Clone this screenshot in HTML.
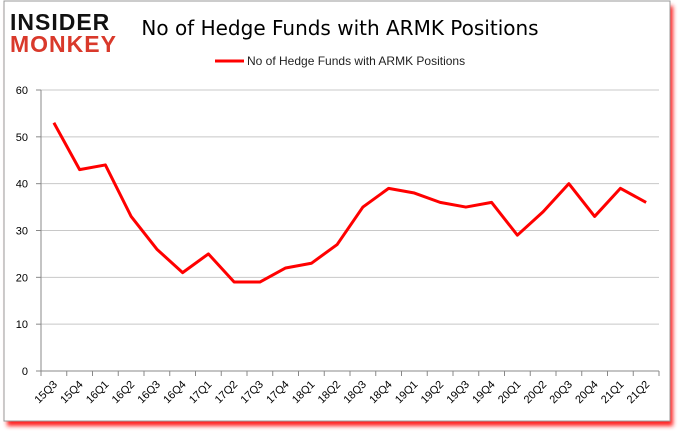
<!DOCTYPE html>
<html><head><meta charset="utf-8"><style>
body{margin:0;background:#fff;width:678px;height:431px;overflow:hidden;font-family:"Liberation Sans",sans-serif}
</style></head><body>
<svg width="678" height="431" xmlns="http://www.w3.org/2000/svg">
<defs><filter id="sh" x="-5%" y="-5%" width="110%" height="115%"><feGaussianBlur stdDeviation="2"/></filter></defs>
<rect x="7" y="6" width="666" height="420" fill="#ff2020" filter="url(#sh)"/>
<rect x="4" y="1" width="666" height="420" fill="#fff" stroke="#999"/>
<g>
<text x="10" y="30" font-size="23" font-weight="bold" fill="#111" letter-spacing="1">INSIDER</text>
<text x="10" y="52" font-size="23" font-weight="bold" fill="#d9392b" letter-spacing="1">MONKEY</text>
</g>
<text x="340" y="35" font-size="20" text-anchor="middle" fill="#000" font-family="'DejaVu Sans',sans-serif">No of Hedge Funds with ARMK Positions</text>
<line x1="215" y1="61" x2="244" y2="61" stroke="#f00" stroke-width="3"/>
<text x="247" y="65" font-size="12" fill="#222">No of Hedge Funds with ARMK Positions</text>
<g id="grid"></g><g id="axes"></g><g id="series"></g>
</svg>
<script>
const categories=["15Q3","15Q4","16Q1","16Q2","16Q3","16Q4","17Q1","17Q2","17Q3","17Q4","18Q1","18Q2","18Q3","18Q4","19Q1","19Q2","19Q3","19Q4","20Q1","20Q2","20Q3","20Q4","21Q1","21Q2"];
const values=[53,43,44,33,26,21,25,19,19,22,23,27,35,39,38,36,35,36,29,34,40,33,39,36];
const yTicks=[0,10,20,30,40,50,60];
const NS="http://www.w3.org/2000/svg";
const L=41,R=659,T=90,B=371,yMax=60;
const cw=(R-L)/categories.length;
const xs=i=>L+cw*(i+0.5);
const ys=v=>B-(v/yMax)*(B-T);
function mk(tag,attrs,parent){const e=document.createElementNS(NS,tag);for(const k in attrs)e.setAttribute(k,attrs[k]);document.getElementById(parent).appendChild(e);return e;}
yTicks.forEach(t=>{
 const y=ys(t);
 const g=mk('line',{x1:L,x2:R,y1:y,y2:y,stroke:t===0?'#888':'#c8c8c8','stroke-width':1},'grid');
 
 
 const tk=mk('line',{x1:L-5,x2:L,y1:y,y2:y,stroke:'#888'},'axes');
 
 
 const tx=mk('text',{x:L-13,y:y+4,'font-size':11,'text-anchor':'end',fill:'#000'},'axes');
 tx.textContent=t;
 
 
});
const ya=mk('line',{x1:L,x2:L,y1:T,y2:B,stroke:'#888'},'axes');


categories.forEach((c,i)=>{
 const x=L+cw*i;
 const tk=mk('line',{x1:x,x2:x,y1:B,y2:B+5,stroke:'#888'},'axes');
 
 
 const cx=xs(i)+4,cy=B+14;
 const tx=mk('text',{x:cx,y:cy,'font-size':11,'text-anchor':'end',fill:'#000',transform:`rotate(-45 ${cx} ${cy})`},'axes');
 tx.textContent=c;
 
 
});
const lt=mk('line',{x1:R,x2:R,y1:B,y2:B+5,stroke:'#888'},'axes');


const p=mk('polyline',{points:values.map((v,i)=>xs(i)+','+ys(v)).join(' '),fill:'none',stroke:'#f00','stroke-width':3,'stroke-linejoin':'round'},'series');


</script>
</body></html>
